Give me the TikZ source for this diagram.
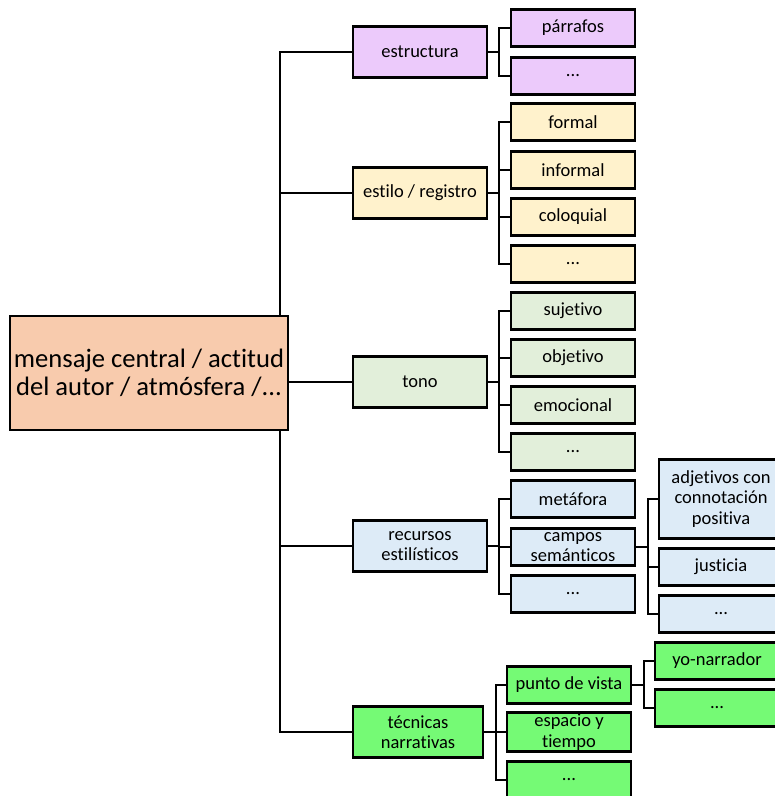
\documentclass[tikz,border=0pt]{standalone}
\usepackage{fontspec}
\setmainfont{Carlito}[Ligatures=NoCommon]
\usetikzlibrary{positioning,backgrounds}

\definecolor{lila}{HTML}{ECCAFB}
\definecolor{crema}{HTML}{FFF2CC}
\definecolor{salvia}{HTML}{E2EFDA}
\definecolor{celeste}{HTML}{DDEBF7}
\definecolor{verde}{HTML}{75FA75}
\definecolor{salmon}{HTML}{F8CBAD}

\begin{document}
\begin{tikzpicture}[x=1pt,y=-1pt,
  box/.style={draw,line width=2.9pt,inner sep=1pt,align=center,
    font=\fontsize{18.5}{20.5}\selectfont},
  lvla/.style={box,minimum width=134pt,minimum height=51pt},
  lvlb/.style={box,minimum width=124pt,minimum height=37pt},
  conn/.style={line width=2pt}]
  \useasboundingbox (0,0) rectangle (775,796);
  \clip (0,0) rectangle (775,796);

  % main box
  \node[box,fill=salmon,minimum width=278pt,minimum height=114pt,
    font=\fontsize{26.6}{28.5}\selectfont] (main) at (149,373)
    {mensaje central / actitud\\del autor / atmósfera /...};

  % first level
  \node[lvla,fill=lila] (estructura) at (420,52) {estructura};
  \node[lvla,fill=crema] (estilo) at (420,193) {estilo / registro};
  \node[lvla,fill=salvia] (tono) at (420,382) {tono};
  \node[lvla,fill=celeste] (recursos) at (420,546) {recursos\\estilísticos};
  \node[lvla,fill=verde,minimum width=130pt] (tecnicas) at (418,732) {técnicas\\narrativas};

  % second level
  \node[lvlb,fill=lila] (parrafos) at (573,28) {párrafos};
  \node[lvlb,fill=lila] (estrdots) at (573,76) {...};

  \node[lvlb,fill=crema] (formal) at (573,122) {formal};
  \node[lvlb,fill=crema] (informal) at (573,170) {informal};
  \node[lvlb,fill=crema] (coloquial) at (573,217) {coloquial};
  \node[lvlb,fill=crema] (estilodots) at (573,264) {...};

  \node[lvlb,fill=salvia] (sujetivo) at (573,311) {sujetivo};
  \node[lvlb,fill=salvia] (objetivo) at (573,358) {objetivo};
  \node[lvlb,fill=salvia] (emocional) at (573,405) {emocional};
  \node[lvlb,fill=salvia] (tonodots) at (573,452) {...};

  \node[lvlb,fill=celeste] (metafora) at (573,499) {metáfora};
  \node[lvlb,fill=celeste] (campos) at (573,547) {campos\\semánticos};
  \node[lvlb,fill=celeste] (recdots) at (573,594) {...};

  \node[lvlb,fill=verde] (punto) at (569,685) {punto de vista};
  \node[lvlb,fill=verde] (espacio) at (569,732) {espacio y\\tiempo};
  \node[lvlb,fill=verde] (tecdots) at (569,780) {...};

  % third level
  \node[lvlb,fill=celeste,minimum height=79pt] (adjetivos) at (721,499)
    {adjetivos con\\connotación\\positiva};
  \node[lvlb,fill=celeste] (justicia) at (721,567) {justicia};
  \node[lvlb,fill=celeste] (campdots) at (721,614) {...};

  \node[lvlb,fill=verde] (yo) at (717,661) {yo-narrador};
  \node[lvlb,fill=verde] (puntodots) at (717,708) {...};

  % connectors
  \begin{pgfonlayer}{background}
    \coordinate (trunk) at (280,0);
    \draw[conn] (estructura.west) -| (trunk |- tecnicas.west) -- (tecnicas.west);
    \foreach \n in {estilo,tono,recursos}
      \draw[conn] (\n.west) -- (trunk |- \n.west);

    \foreach \c in {parrafos,estrdots}
      \draw[conn] (estructura.east) -- ++(11,0) |- (\c.west);
    \foreach \c in {formal,informal,coloquial,estilodots}
      \draw[conn] (estilo.east) -- ++(11,0) |- (\c.west);
    \foreach \c in {sujetivo,objetivo,emocional,tonodots}
      \draw[conn] (tono.east) -- ++(11,0) |- (\c.west);
    \foreach \c in {metafora,campos,recdots}
      \draw[conn] (recursos.east) -- ++(11,0) |- (\c.west);
    \foreach \c in {punto,espacio,tecdots}
      \draw[conn] (tecnicas.east) -- ++(12,0) |- (\c.west);
    \foreach \c in {adjetivos,justicia,campdots}
      \draw[conn] (campos.east) -- ++(12,0) |- (\c.west);
    \foreach \c in {yo,puntodots}
      \draw[conn] (punto.east) -- ++(12,0) |- (\c.west);
  \end{pgfonlayer}
\end{tikzpicture}
\end{document}
